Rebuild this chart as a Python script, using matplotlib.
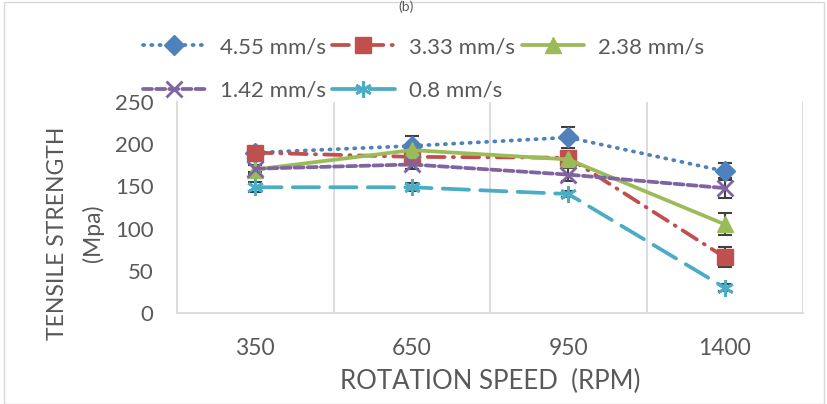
import matplotlib.pyplot as plt
import numpy as np

# data
speeds = ["350", "650", "950", "1400"]
labels = ["4.55 mm/s", "3.33 mm/s", "2.38 mm/s", "1.42 mm/s", "0.8 mm/s"]
s455 = [190, 198, 208, 168]
s333 = [190, 185, 184, 66]
s238 = [170, 193, 182, 105]
s142 = [171, 176, 164, 148]
s08 = [149, 149, 141, 30]
e455 = [4, 12, 12, 10]
e333 = [4, 8, 5, 12]
e238 = [5, 6, 5, 13]
e142 = [4, 5, 8, 12]
e08 = [6, 5, 4, 4]

plt.rcParams['font.family'] = ['Lato', 'DejaVu Sans']
grey = "#595959"

fig = plt.figure(figsize=(8.28, 4.04), dpi=100)
ax = fig.add_axes([0.2138, 0.2252, 0.7562, 0.5223])

x = np.arange(len(speeds))
series = [
    (s455, e455, "#4F81BD", (0, (0.3, 1.9)), "D", 10),
    (s333, e333, "#C0504D", (0, (4.5, 2.2, 0.3, 2.2)), "s", 11),
    (s238, e238, "#9BBB59", "-", "^", 11),
    (s142, e142, "#8064A2", (0, (2.4, 1.1)), "x", 11),
    (s08, e08, "#4BACC6", (0, (7, 3)), (6, 2, 0), 12),
]
handles = []
for (y, err, col, ls, mk, ms), lab in zip(series, labels):
    ax.errorbar(x, y, yerr=err, fmt="none", ecolor="#404040", elinewidth=1.5,
                capsize=5, capthick=1.5, zorder=2)
    thin = mk in ("x", (6, 2, 0))
    h, = ax.plot(x, y, color=col, linestyle=ls, linewidth=2.7, marker=mk,
                 markersize=ms, markeredgewidth=2 if thin else 1,
                 markeredgecolor=col, dash_capstyle="round", solid_capstyle="round",
                 label=lab, zorder=3)
    handles.append(h)

ax.set_xlim(-0.5, 3.5)
ax.set_ylim(0, 250)
ax.set_yticks([0, 50, 100, 150, 200, 250])
ax.set_xticks(x)
ax.set_xticklabels(speeds)
for b in np.arange(0.5, 4.0, 1.0):
    ax.axvline(b, color="#d9d9d9", linewidth=1.3, zorder=0)
for s in ["top", "right"]:
    ax.spines[s].set_visible(False)
for s in ["left", "bottom"]:
    ax.spines[s].set_color("#d9d9d9")
    ax.spines[s].set_linewidth(1.3)
ax.tick_params(axis="y", length=0, colors=grey, labelsize=16, pad=17)
ax.tick_params(axis="x", length=0, colors=grey, labelsize=16.5, pad=18)

ax.set_xlabel("ROTATION SPEED  (RPM)", fontsize=18.5, color=grey, labelpad=7)
ax.set_ylabel("TENSILE STRENGTH\n(Mpa)", fontsize=16.5, color=grey, linespacing=1.75)
ax.yaxis.set_label_coords(-0.117, 0.38)

order = [0, 3, 1, 4, 2]
fig.legend([handles[i] for i in order], [labels[i] for i in order],
           ncol=3, loc="upper left", bbox_to_anchor=(143 / 828, 1 - 37 / 404),
           borderpad=0, borderaxespad=0,
           frameon=False, fontsize=16, handlelength=2.8, handletextpad=0.65,
           columnspacing=0.3, labelspacing=1.05, labelcolor=grey)

fig.patches.append(plt.Rectangle((0.005, 0.0), 0.99, 0.995, transform=fig.transFigure,
                                 fill=False, edgecolor="#d9d9d9", linewidth=1))
fig.text(0.49, 0.998, "(b)", ha="center", va="top", fontsize=10, color=grey)

fig.savefig("out.png", dpi=100)
